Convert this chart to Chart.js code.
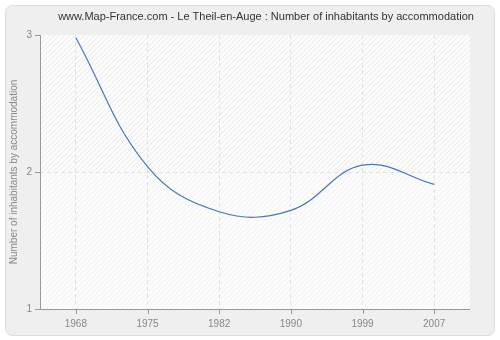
<!DOCTYPE html>
<html>
<head>
<meta charset="utf-8">
<script src="https://cdn.jsdelivr.net/npm/chart.js@4/dist/chart.umd.min.js"></script>
<style>
  html, body { margin: 0; padding: 0; background: #fff; }
  #wrap { width: 500px; height: 340px; }
</style>
</head>
<body>
<div id="wrap"><canvas id="chart" width="500" height="340"></canvas></div>
<script>
const years = ['1968', '1975', '1982', '1990', '1999', '2007'];
const inhabitants = [2.98, 2.04, 1.71, 1.72, 2.05, 1.91];
const yTicks = [1, 2, 3];
const titleText = 'www.Map-France.com - Le Theil-en-Auge : Number of inhabitants by accommodation';
const yTitle = 'Number of inhabitants by accommodation';

const FONT = '"Liberation Sans", Arial, sans-serif';

// diagonal hatch used as plot background
function hatch(color) {
  const n = 5;
  const c = document.createElement('canvas');
  c.width = n; c.height = n;
  const g = c.getContext('2d');
  g.fillStyle = '#fcfcfc';
  g.fillRect(0, 0, n, n);
  g.strokeStyle = color;
  g.lineWidth = 0.8;
  g.beginPath();
  g.moveTo(0, n); g.lineTo(n, 0);
  g.moveTo(-1, 1); g.lineTo(1, -1);
  g.moveTo(n - 1, n + 1); g.lineTo(n + 1, n - 1);
  g.stroke();
  return c;
}

const frame = {
  id: 'frame',
  beforeDraw(chart) {
    const ctx = chart.ctx;
    const a = chart.chartArea;
    const y = chart.scales.y;
    ctx.save();
    // outer panel
    ctx.fillStyle = '#fff';
    ctx.fillRect(0, 0, chart.width, chart.height);
    ctx.beginPath();
    ctx.roundRect(5.5, 5.5, 489, 330, 7);
    ctx.fillStyle = '#efefef';
    ctx.fill();
    ctx.strokeStyle = '#dcdcdc';
    ctx.lineWidth = 1;
    ctx.stroke();
    // plot area, upper band a little darker
    const mid = y.getPixelForValue(2);
    ctx.fillStyle = ctx.createPattern(hatch('#e4e4e4'), 'repeat');
    ctx.fillRect(a.left, a.top, a.right - a.left, mid - a.top);
    ctx.fillStyle = ctx.createPattern(hatch('#eeeeee'), 'repeat');
    ctx.fillRect(a.left, mid, a.right - a.left, a.bottom - mid);
    // title
    ctx.fillStyle = '#333';
    ctx.font = '11px ' + FONT;
    ctx.textAlign = 'center';
    ctx.textBaseline = 'middle';
    ctx.fillText(titleText, 266, 17);
    // y axis title
    ctx.translate(14, (a.top + a.bottom) / 2);
    ctx.rotate(-Math.PI / 2);
    ctx.fillStyle = '#888';
    ctx.font = '10px ' + FONT;
    ctx.fillText(yTitle, 0, 0);
    ctx.restore();
  },
  afterDraw(chart) {
    const ctx = chart.ctx;
    const a = chart.chartArea;
    const x = chart.scales.x;
    const y = chart.scales.y;
    ctx.save();
    ctx.strokeStyle = '#999';
    ctx.lineWidth = 1;
    ctx.beginPath();
    // axes
    ctx.moveTo(a.left + 0.5, a.top);
    ctx.lineTo(a.left + 0.5, a.bottom + 0.5);
    ctx.lineTo(a.right, a.bottom + 0.5);
    // tick marks
    yTicks.forEach(v => {
      const py = Math.round(y.getPixelForValue(v)) + 0.5;
      ctx.moveTo(a.left - 5, py);
      ctx.lineTo(a.left, py);
    });
    years.forEach((_, i) => {
      const px = Math.round(x.getPixelForValue(i)) + 0.5;
      ctx.moveTo(px, a.bottom);
      ctx.lineTo(px, a.bottom + 5);
    });
    ctx.stroke();
    ctx.restore();
  }
};

new Chart(document.getElementById('chart'), {
  type: 'line',
  data: {
    labels: years,
    datasets: [{
      data: inhabitants,
      borderColor: '#4a78b0',
      borderWidth: 1.2,
      pointRadius: 0,
      fill: false,
      tension: 0.4
    }]
  },
  options: {
    responsive: false,
    animation: false,
    layout: { padding: { left: 0, right: 30, top: 35, bottom: 0 } },
    plugins: { legend: { display: false }, tooltip: { enabled: false }, title: { display: false } },
    scales: {
      x: {
        offset: true,
        grid: {
          offset: false,
          color: '#e2e2e2',
          drawTicks: false
        },
        border: { display: false, dash: [4, 3] },
        ticks: { color: '#888', font: { family: FONT, size: 10 }, padding: 9, maxRotation: 0 },
        afterFit(s) { s.height = 31; }
      },
      y: {
        min: 1,
        max: 3,
        afterBuildTicks(s) { s.ticks = yTicks.map(v => ({ value: v })); },
        grid: {
          color: c => (c.tick && c.tick.value === 2) ? '#e2e2e2' : 'rgba(0,0,0,0)',
          drawTicks: false
        },
        border: { display: false, dash: [4, 3] },
        ticks: { color: '#888', font: { family: FONT, size: 10 }, padding: 8 },
        afterFit(s) { s.width = 40; }
      }
    }
  },
  plugins: [frame]
});
</script>
</body>
</html>
